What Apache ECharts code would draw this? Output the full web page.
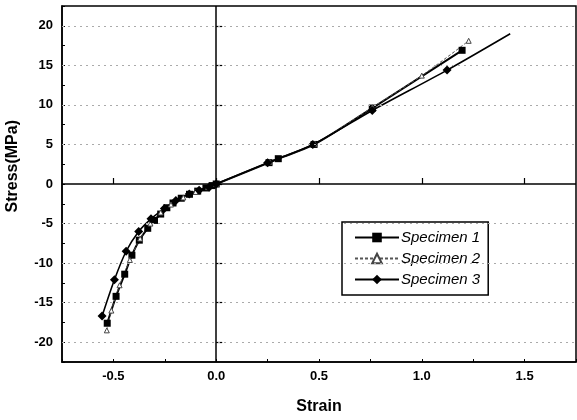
<!DOCTYPE html>
<html>
<head>
<meta charset="utf-8">
<script src="https://cdn.jsdelivr.net/npm/echarts@6/dist/echarts.min.js"></script>
<style>html,body{margin:0;padding:0;background:#fff}#c{width:577px;height:420px}</style>
</head>
<body>
<div id="c"></div>
<script>
// ---- data ----
const strain1 = [-0.53, -0.487, -0.445, -0.41, -0.374, -0.333, -0.30, -0.27, -0.24, -0.21, -0.17, -0.13, -0.09, -0.05, -0.02, 0, 0.257, 0.302, 0.476, 0.759, 1.196];
const stress1 = [-17.6, -14.2, -11.4, -9.0, -7.1, -5.6, -4.6, -3.8, -3.0, -2.4, -1.8, -1.3, -0.9, -0.5, -0.2, 0, 2.7, 3.2, 5.0, 9.6, 16.9];
const strain2 = [-0.532, -0.51, -0.47, -0.42, -0.37, -0.32, -0.27, -0.22, -0.16, -0.10, -0.04, 0, 0.26, 0.48, 0.76, 1.0, 1.228];
const stress2 = [-18.5, -16.0, -12.8, -9.6, -6.9, -5.0, -3.6, -2.6, -1.7, -1.0, -0.4, 0, 2.8, 5.1, 9.7, 13.7, 18.1];
const strain3 = [-0.555, -0.495, -0.438, -0.377, -0.317, -0.252, -0.196, -0.131, -0.083, -0.034, 0, 0.25, 0.47, 0.759, 1.123, 1.43];
const stress3 = [-16.7, -12.1, -8.5, -6.0, -4.4, -3.1, -2.1, -1.25, -0.8, -0.4, 0, 2.7, 5.0, 9.3, 14.4, 19.0];
const seriesNames = ['Specimen 1', 'Specimen 2', 'Specimen 3'];
const xTicks = [-0.5, 0, 0.5, 1.0, 1.5];
const yTicks = [-20, -15, -10, -5, 0, 5, 10, 15, 20];
const gridValues = [-20, -15, -10, -5, 5, 10, 15, 20];

const zip = (xs, ys) => xs.map((x, i) => [x, ys[i]]);
const font = 'Liberation Sans, Arial, sans-serif';

const chart = echarts.init(document.getElementById('c'), null, {renderer: 'canvas'});
const tickLabel = {fontFamily: font, fontWeight: 'bold', fontSize: 13, color: '#000'};

// specimen 3: its last point carries no marker
const data3 = zip(strain3, stress3).map((p, i) =>
  i === strain3.length - 1 ? {value: p, symbol: 'none'} : {value: p});

chart.setOption({
  animation: false,
  backgroundColor: '#fff',
  grid: {left: 62, right: 1, top: 6, bottom: 55, show: true, borderColor: '#000', borderWidth: 1.5, backgroundColor: 'transparent'},
  xAxis: [{
    type: 'value', min: -0.75, max: 1.75, interval: 0.25,
    axisLine: {show: true, onZero: false, lineStyle: {color: '#000', width: 1.5}},
    axisTick: {show: true, inside: true, length: 3, lineStyle: {color: '#000'}},
    axisLabel: {...tickLabel, margin: 8, customValues: xTicks, formatter: v => v.toFixed(1)},
    splitLine: {show: false},
    name: 'Strain', nameLocation: 'middle', nameGap: 37,
    nameTextStyle: {fontFamily: font, fontWeight: 'bold', fontSize: 16, color: '#000'}
  }, {
    type: 'value', min: -0.75, max: 1.75, position: 'bottom',
    axisLine: {show: false},
    axisTick: {show: true, inside: true, length: 6, customValues: xTicks, lineStyle: {color: '#000', width: 1.2}},
    axisLabel: {show: false}, splitLine: {show: false}
  }],
  yAxis: [{
    type: 'value', min: -22.5, max: 22.5, interval: 2.5,
    axisLine: {show: true, onZero: false, lineStyle: {color: '#000', width: 1.5}},
    axisTick: {show: true, inside: true, length: 3, lineStyle: {color: '#000'}},
    axisLabel: {...tickLabel, margin: 9, customValues: yTicks, formatter: v => String(v)},
    splitLine: {show: false}
  }, {
    type: 'value', min: -22.5, max: 22.5, position: 'left',
    axisLine: {show: false},
    axisTick: {show: true, inside: true, length: 6, customValues: yTicks, lineStyle: {color: '#000', width: 1.2}},
    axisLabel: {show: false}, splitLine: {show: false}
  }],
  graphic: [{
    type: 'text', left: 5, top: 120, rotation: Math.PI / 2,
    style: {text: 'Stress(MPa)', font: 'bold 16px ' + font, fill: '#000'}
  }],
  legend: {
    orient: 'vertical', left: 342, top: 222,
    data: seriesNames,
    borderColor: '#000', borderWidth: 1.5, borderRadius: 0,
    padding: [8, 8, 8, 12], itemGap: 6, itemWidth: 44, itemHeight: 12,
    textStyle: {fontFamily: font, fontStyle: 'italic', fontSize: 15, color: '#000', padding: [0, 0, 0, -3]}
  },
  series: [
    {
      type: 'line', name: 'gridlines', data: [], silent: true, legendHoverLink: false,
      markLine: {
        silent: true, symbol: 'none', label: {show: false}, animation: false,
        data: [
          ...gridValues.map(v => ({yAxis: v, lineStyle: {color: '#aaa', type: [2, 4], width: 1}})),
          {yAxis: 0, lineStyle: {color: '#000', type: 'solid', width: 1.5}},
          {xAxis: 0, lineStyle: {color: '#000', type: 'solid', width: 1.5}}
        ]
      }
    },
    {
      type: 'line', name: seriesNames[0], data: zip(strain1, stress1), smooth: 0.3,
      symbol: 'rect', symbolSize: 7, showAllSymbol: true,
      lineStyle: {color: '#000', width: 2}, itemStyle: {color: '#000'}
    },
    {
      type: 'line', name: seriesNames[1], data: zip(strain2, stress2), smooth: 0.3,
      symbol: 'triangle', symbolSize: 5, showAllSymbol: true,
      lineStyle: {color: '#555', width: 1, type: [3, 2]}, itemStyle: {color: '#fff', borderColor: '#444', borderWidth: 1}
    },
    {
      type: 'line', name: seriesNames[2], data: data3, smooth: 0.3,
      symbol: 'diamond', symbolSize: 9, showAllSymbol: true,
      lineStyle: {color: '#000', width: 1.6}, itemStyle: {color: '#000'}
    }
  ]
});
</script>
</body>
</html>
